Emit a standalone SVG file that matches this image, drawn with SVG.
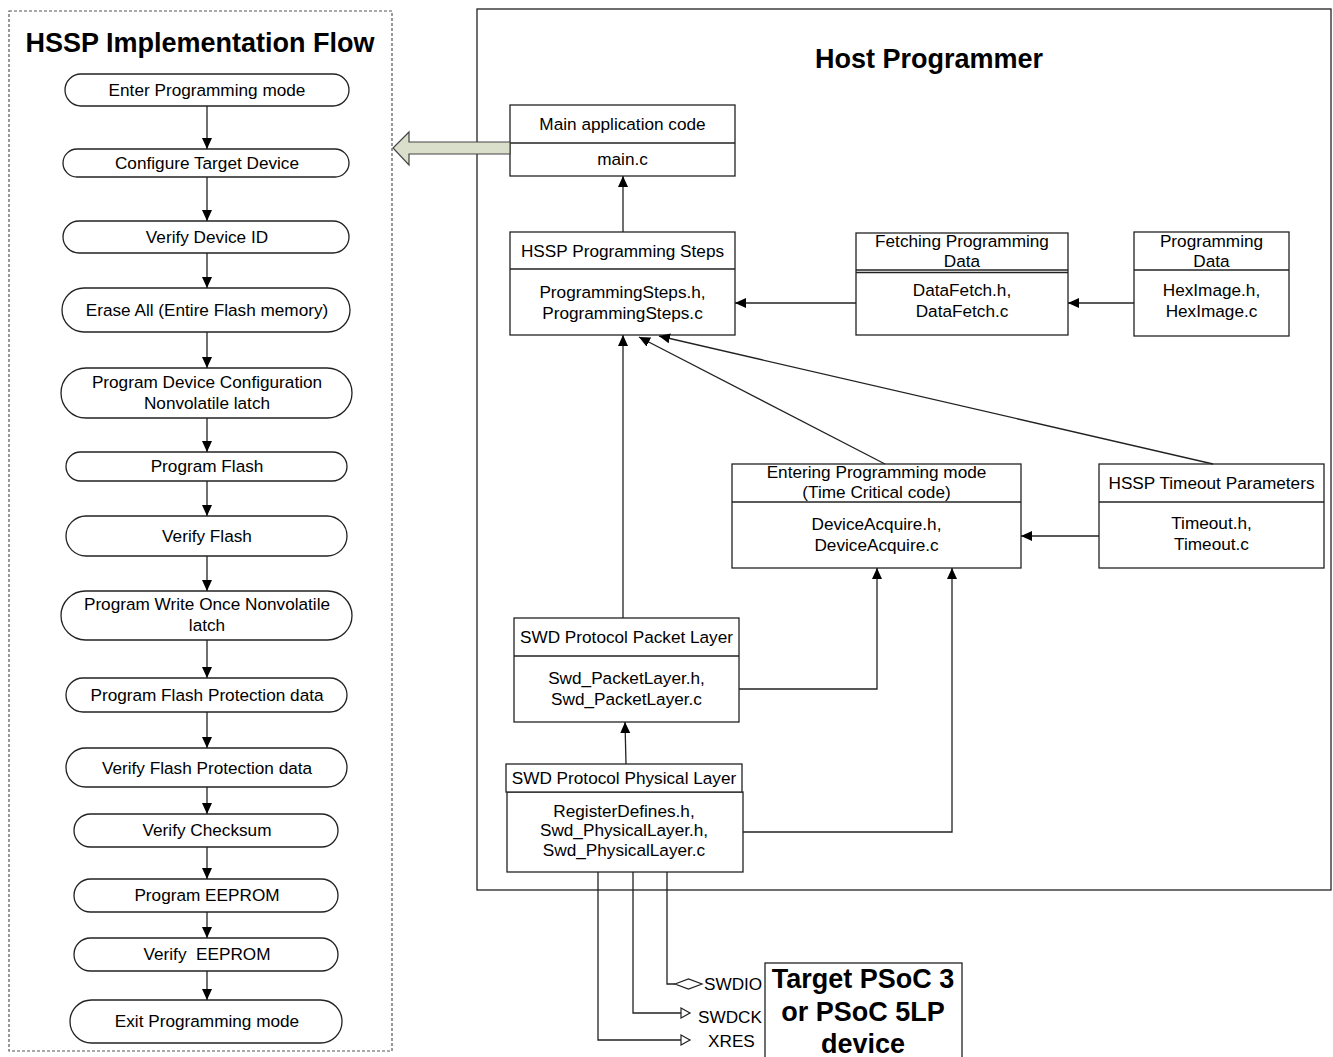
<svg xmlns="http://www.w3.org/2000/svg" width="1333" height="1057" viewBox="0 0 1333 1057">
<style>
text{font-family:"Liberation Sans",Arial,sans-serif;font-size:17.2px;fill:#000;text-anchor:middle}
.title{font-size:27px;font-weight:bold}
.pill,.box{fill:#fff;stroke:#222;stroke-width:1.3}
.ln{fill:none;stroke:#222;stroke-width:1.3}
.pin{text-anchor:start}
.pre{white-space:pre}
</style>
<defs>
<marker id="ah" markerUnits="userSpaceOnUse" markerWidth="12" markerHeight="12" viewBox="0 0 12 12" refX="11" refY="6" orient="auto">
<path d="M0,1 L11,6 L0,11 Z" fill="#000"/>
</marker>
<marker id="oh" markerUnits="userSpaceOnUse" markerWidth="12" markerHeight="12" viewBox="0 0 12 12" refX="10" refY="6" orient="auto">
<path d="M1,1 L10,6 L1,11 Z" fill="#fff" stroke="#222" stroke-width="1.2"/>
</marker>
</defs>
<rect width="1333" height="1057" fill="#fff"/>

<g id="flow-panel">
<rect x="9" y="11" width="383" height="1040" fill="none" stroke="#555" stroke-width="1.2" stroke-dasharray="3,2"/>
<text class="title" x="200" y="52">HSSP Implementation Flow</text>
</g>

<g id="host-panel">
<rect x="477" y="9" width="854" height="881" fill="none" stroke="#222" stroke-width="1.3"/>
<text class="title" x="929" y="68">Host Programmer</text>
</g>

<g id="f1"><rect class="pill" x="65" y="74" width="284" height="32" rx="16"/><text x="207" y="96">Enter Programming mode</text></g>
<g id="f2"><rect class="pill" x="63" y="149" width="286" height="28" rx="14"/><text x="207" y="169">Configure Target Device</text></g>
<g id="f3"><rect class="pill" x="63" y="221" width="286" height="32" rx="16"/><text x="207" y="243">Verify Device ID</text></g>
<g id="f4"><rect class="pill" x="62" y="288" width="288" height="44" rx="22"/><text x="207" y="316">Erase All (Entire Flash memory)</text></g>
<g id="f5"><rect class="pill" x="61" y="368" width="291" height="50" rx="25"/><text x="207" y="388">Program Device Configuration</text><text x="207" y="409">Nonvolatile latch</text></g>
<g id="f6"><rect class="pill" x="66" y="452" width="281" height="29" rx="14.5"/><text x="207" y="472">Program Flash</text></g>
<g id="f7"><rect class="pill" x="66" y="516" width="281" height="40" rx="20"/><text x="207" y="542">Verify Flash</text></g>
<g id="f8"><rect class="pill" x="61" y="591" width="291" height="49" rx="24.5"/><text x="207" y="610">Program Write Once Nonvolatile</text><text x="207" y="631">latch</text></g>
<g id="f9"><rect class="pill" x="66" y="678" width="281" height="34" rx="17"/><text x="207" y="701">Program Flash Protection data</text></g>
<g id="f10"><rect class="pill" x="66" y="748" width="281" height="39" rx="19.5"/><text x="207" y="774">Verify Flash Protection data</text></g>
<g id="f11"><rect class="pill" x="74" y="814" width="264" height="33" rx="16.5"/><text x="207" y="836">Verify Checksum</text></g>
<g id="f12"><rect class="pill" x="74" y="879" width="264" height="33" rx="16.5"/><text x="207" y="901">Program EEPROM</text></g>
<g id="f13"><rect class="pill" x="74" y="938" width="264" height="33" rx="16.5"/><text class="pre" xml:space="preserve" x="207" y="960">Verify  EEPROM</text></g>
<g id="f14"><rect class="pill" x="70" y="1000" width="272" height="43" rx="21.5"/><text x="207" y="1027">Exit Programming mode</text></g>

<g id="main-app">
<rect class="box" x="510" y="105" width="225" height="71"/><line class="ln" x1="510" y1="143" x2="735" y2="143"/>
<text x="622.5" y="130">Main application code</text><text x="622.5" y="165">main.c</text>
</g>
<g id="prog-steps">
<rect class="box" x="510" y="232" width="225" height="103"/><line class="ln" x1="510" y1="269" x2="735" y2="269"/>
<text x="622.5" y="257">HSSP Programming Steps</text><text x="622.5" y="298">ProgrammingSteps.h,</text><text x="622.5" y="319">ProgrammingSteps.c</text>
</g>
<g id="data-fetch">
<rect class="box" x="856" y="233" width="212" height="102"/><line class="ln" x1="856" y1="270" x2="1068" y2="270"/><line class="ln" x1="856" y1="272.5" x2="1068" y2="272.5"/>
<text x="962" y="247">Fetching Programming</text><text x="962" y="267">Data</text><text x="962" y="296">DataFetch.h,</text><text x="962" y="317">DataFetch.c</text>
</g>
<g id="prog-data">
<rect class="box" x="1134" y="232" width="155" height="104"/><line class="ln" x1="1134" y1="270" x2="1289" y2="270"/>
<text x="1211.5" y="247">Programming</text><text x="1211.5" y="267">Data</text><text x="1211.5" y="296">HexImage.h,</text><text x="1211.5" y="317">HexImage.c</text>
</g>
<g id="entering">
<rect class="box" x="732" y="464" width="289" height="104"/><line class="ln" x1="732" y1="502" x2="1021" y2="502"/>
<text x="876.5" y="478">Entering Programming mode</text><text x="876.5" y="498">(Time Critical code)</text><text x="876.5" y="530">DeviceAcquire.h,</text><text x="876.5" y="551">DeviceAcquire.c</text>
</g>
<g id="timeout">
<rect class="box" x="1099" y="464" width="225" height="104"/><line class="ln" x1="1099" y1="502" x2="1324" y2="502"/>
<text x="1211.5" y="489">HSSP Timeout Parameters</text><text x="1211.5" y="529">Timeout.h,</text><text x="1211.5" y="550">Timeout.c</text>
</g>
<g id="packet">
<rect class="box" x="514" y="618" width="225" height="104"/><line class="ln" x1="514" y1="656" x2="739" y2="656"/>
<text x="626.5" y="643">SWD Protocol Packet Layer</text><text x="626.5" y="684">Swd_PacketLayer.h,</text><text x="626.5" y="705">Swd_PacketLayer.c</text>
</g>
<g id="physical">
<rect class="box" x="507" y="792" width="236" height="80"/>
<rect class="box" x="506" y="764" width="236" height="28"/>
<text x="624" y="784">SWD Protocol Physical Layer</text><text x="624" y="817">RegisterDefines.h,</text><text x="624" y="836">Swd_PhysicalLayer.h,</text><text x="624" y="856">Swd_PhysicalLayer.c</text>
</g>
<g id="target">
<rect x="765" y="963" width="197" height="100" fill="#fff" stroke="#222" stroke-width="1.3"/>
<text class="title" x="863" y="988">Target PSoC 3</text><text class="title" x="863" y="1021">or PSoC 5LP</text><text class="title" x="863" y="1053">device</text>
</g>
<g id="pin-labels">
<text class="pin" x="704" y="990">SWDIO</text>
<text class="pin" x="698" y="1023">SWDCK</text>
<text class="pin" x="708" y="1047">XRES</text>
</g>

<g id="connectors">
<line class="ln" x1="207" y1="106" x2="207" y2="149" marker-end="url(#ah)"/>
<line class="ln" x1="207" y1="177" x2="207" y2="221" marker-end="url(#ah)"/>
<line class="ln" x1="207" y1="253" x2="207" y2="288" marker-end="url(#ah)"/>
<line class="ln" x1="207" y1="332" x2="207" y2="368" marker-end="url(#ah)"/>
<line class="ln" x1="207" y1="418" x2="207" y2="452" marker-end="url(#ah)"/>
<line class="ln" x1="207" y1="481" x2="207" y2="516" marker-end="url(#ah)"/>
<line class="ln" x1="207" y1="556" x2="207" y2="591" marker-end="url(#ah)"/>
<line class="ln" x1="207" y1="640" x2="207" y2="678" marker-end="url(#ah)"/>
<line class="ln" x1="207" y1="712" x2="207" y2="748" marker-end="url(#ah)"/>
<line class="ln" x1="207" y1="787" x2="207" y2="814" marker-end="url(#ah)"/>
<line class="ln" x1="207" y1="847" x2="207" y2="879" marker-end="url(#ah)"/>
<line class="ln" x1="207" y1="912" x2="207" y2="938" marker-end="url(#ah)"/>
<line class="ln" x1="207" y1="971" x2="207" y2="1000" marker-end="url(#ah)"/>

<polygon points="510,142 409,142 409,132 393,148 409,165 409,154 510,154" fill="#dadfcb" stroke="#444" stroke-width="1.2"/>

<line class="ln" x1="623" y1="232" x2="623" y2="176" marker-end="url(#ah)"/>
<line class="ln" x1="1134" y1="303" x2="1068" y2="303" marker-end="url(#ah)"/>
<line class="ln" x1="856" y1="303" x2="735" y2="303" marker-end="url(#ah)"/>
<line class="ln" x1="623" y1="618" x2="623" y2="335" marker-end="url(#ah)"/>
<line class="ln" x1="885" y1="464" x2="639" y2="337" marker-end="url(#ah)"/>
<line class="ln" x1="1213" y1="464" x2="659" y2="336" marker-end="url(#ah)"/>
<line class="ln" x1="626" y1="764" x2="625" y2="722" marker-end="url(#ah)"/>
<polyline class="ln" points="739,689 877,689 877,568" marker-end="url(#ah)"/>
<polyline class="ln" points="743,832 952,832 952,568" marker-end="url(#ah)"/>
<line class="ln" x1="1099" y1="536" x2="1021" y2="536" marker-end="url(#ah)"/>

<polyline class="ln" points="667,872 667,984 675,984"/>
<polygon points="675,984 688.5,979 702,984 688.5,989" fill="#fff" stroke="#222" stroke-width="1.2"/>
<polyline class="ln" points="633,872 633,1013 690,1013" marker-end="url(#oh)"/>
<polyline class="ln" points="598,872 598,1040 690,1040" marker-end="url(#oh)"/>
</g>
</svg>
